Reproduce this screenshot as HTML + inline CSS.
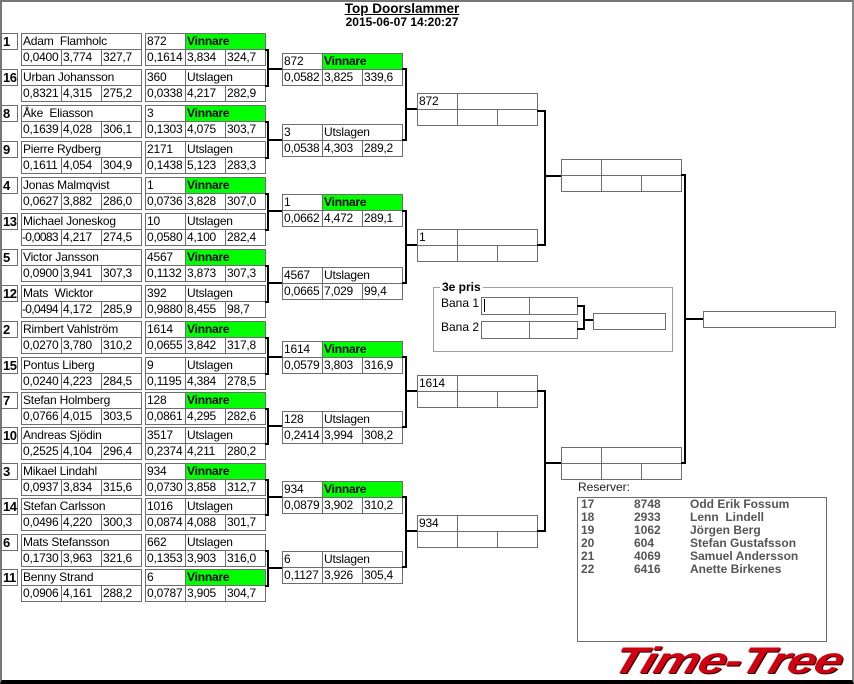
<!DOCTYPE html>
<html><head><meta charset="utf-8">
<style>
*{margin:0;padding:0;box-sizing:border-box}
body{width:854px;height:684px;position:relative;background:#fff;font-family:"Liberation Sans",sans-serif;font-size:12px;color:#000;overflow:hidden}
.c{position:absolute;border:1px solid #6d6d6d;background:#fff;height:17px;line-height:15px;padding-left:1px;white-space:nowrap;overflow:hidden;letter-spacing:-0.2px}
.n{letter-spacing:-0.7px;padding-left:0}
.s{position:absolute;border:1px solid #6d6d6d;left:1px;width:17px;height:17px;line-height:15px;font-weight:bold;font-size:13px;padding-left:1px;letter-spacing:-0.5px}
.g{background:#00ff00;font-weight:bold}
.l{position:absolute;background:#000}
.w41{width:41px}.w81{width:81px}.w121{width:121px}
.rs span{white-space:nowrap}
</style></head><body>
<div style="position:absolute;left:0;top:0;width:854px;height:684px;border:2px solid #777;border-bottom:4px solid #000;border-right-color:#888"></div>
<div style="position:absolute;left:300px;width:204px;top:2px;text-align:center;font-weight:bold;font-size:13.5px;text-decoration:underline;line-height:14px">Top Doorslammer</div>
<div style="position:absolute;left:300px;width:204px;top:15px;text-align:center;font-weight:bold;font-size:12px;line-height:14px">2015-06-07 14:20:27</div>

<div class="s" style="top:33px">1</div><div class="c w121" style="left:21px;top:33px">Adam&nbsp; Flamholc</div><div class="c w41" style="left:21px;top:49px">0,0400</div><div class="c w41" style="left:61px;top:49px">3,774</div><div class="c w41" style="left:101px;top:49px">327,7</div>
<div class="c w41" style="left:145px;top:33px">872</div><div class="c w81 g" style="left:185px;top:33px">Vinnare</div><div class="c w41" style="left:145px;top:49px">0,1614</div><div class="c w41" style="left:185px;top:49px">3,834</div><div class="c w41" style="left:225px;top:49px">324,7</div>

<div class="s" style="top:69px">16</div><div class="c w121" style="left:21px;top:69px">Urban Johansson</div><div class="c w41" style="left:21px;top:85px">0,8321</div><div class="c w41" style="left:61px;top:85px">4,315</div><div class="c w41" style="left:101px;top:85px">275,2</div>
<div class="c w41" style="left:145px;top:69px">360</div><div class="c w81" style="left:185px;top:69px">Utslagen</div><div class="c w41" style="left:145px;top:85px">0,0338</div><div class="c w41" style="left:185px;top:85px">4,217</div><div class="c w41" style="left:225px;top:85px">282,9</div>

<div class="s" style="top:105px">8</div><div class="c w121" style="left:21px;top:105px">Åke&nbsp; Eliasson</div><div class="c w41" style="left:21px;top:121px">0,1639</div><div class="c w41" style="left:61px;top:121px">4,028</div><div class="c w41" style="left:101px;top:121px">306,1</div>
<div class="c w41" style="left:145px;top:105px">3</div><div class="c w81 g" style="left:185px;top:105px">Vinnare</div><div class="c w41" style="left:145px;top:121px">0,1303</div><div class="c w41" style="left:185px;top:121px">4,075</div><div class="c w41" style="left:225px;top:121px">303,7</div>

<div class="s" style="top:141px">9</div><div class="c w121" style="left:21px;top:141px">Pierre Rydberg</div><div class="c w41" style="left:21px;top:157px">0,1611</div><div class="c w41" style="left:61px;top:157px">4,054</div><div class="c w41" style="left:101px;top:157px">304,9</div>
<div class="c w41" style="left:145px;top:141px">2171</div><div class="c w81" style="left:185px;top:141px">Utslagen</div><div class="c w41" style="left:145px;top:157px">0,1438</div><div class="c w41" style="left:185px;top:157px">5,123</div><div class="c w41" style="left:225px;top:157px">283,3</div>

<div class="s" style="top:177px">4</div><div class="c w121" style="left:21px;top:177px">Jonas Malmqvist</div><div class="c w41" style="left:21px;top:193px">0,0627</div><div class="c w41" style="left:61px;top:193px">3,882</div><div class="c w41" style="left:101px;top:193px">286,0</div>
<div class="c w41" style="left:145px;top:177px">1</div><div class="c w81 g" style="left:185px;top:177px">Vinnare</div><div class="c w41" style="left:145px;top:193px">0,0736</div><div class="c w41" style="left:185px;top:193px">3,828</div><div class="c w41" style="left:225px;top:193px">307,0</div>

<div class="s" style="top:213px">13</div><div class="c w121" style="left:21px;top:213px">Michael Joneskog</div><div class="c w41 n" style="left:21px;top:229px">-0,0083</div><div class="c w41" style="left:61px;top:229px">4,217</div><div class="c w41" style="left:101px;top:229px">274,5</div>
<div class="c w41" style="left:145px;top:213px">10</div><div class="c w81" style="left:185px;top:213px">Utslagen</div><div class="c w41" style="left:145px;top:229px">0,0580</div><div class="c w41" style="left:185px;top:229px">4,100</div><div class="c w41" style="left:225px;top:229px">282,4</div>

<div class="s" style="top:249px">5</div><div class="c w121" style="left:21px;top:249px">Victor Jansson</div><div class="c w41" style="left:21px;top:265px">0,0900</div><div class="c w41" style="left:61px;top:265px">3,941</div><div class="c w41" style="left:101px;top:265px">307,3</div>
<div class="c w41" style="left:145px;top:249px">4567</div><div class="c w81 g" style="left:185px;top:249px">Vinnare</div><div class="c w41" style="left:145px;top:265px">0,1132</div><div class="c w41" style="left:185px;top:265px">3,873</div><div class="c w41" style="left:225px;top:265px">307,3</div>

<div class="s" style="top:285px">12</div><div class="c w121" style="left:21px;top:285px">Mats&nbsp; Wicktor</div><div class="c w41 n" style="left:21px;top:301px">-0,0494</div><div class="c w41" style="left:61px;top:301px">4,172</div><div class="c w41" style="left:101px;top:301px">285,9</div>
<div class="c w41" style="left:145px;top:285px">392</div><div class="c w81" style="left:185px;top:285px">Utslagen</div><div class="c w41" style="left:145px;top:301px">0,9880</div><div class="c w41" style="left:185px;top:301px">8,455</div><div class="c w41" style="left:225px;top:301px">98,7</div>

<div class="s" style="top:321px">2</div><div class="c w121" style="left:21px;top:321px">Rimbert Vahlström</div><div class="c w41" style="left:21px;top:337px">0,0270</div><div class="c w41" style="left:61px;top:337px">3,780</div><div class="c w41" style="left:101px;top:337px">310,2</div>
<div class="c w41" style="left:145px;top:321px">1614</div><div class="c w81 g" style="left:185px;top:321px">Vinnare</div><div class="c w41" style="left:145px;top:337px">0,0655</div><div class="c w41" style="left:185px;top:337px">3,842</div><div class="c w41" style="left:225px;top:337px">317,8</div>

<div class="s" style="top:357px">15</div><div class="c w121" style="left:21px;top:357px">Pontus Liberg</div><div class="c w41" style="left:21px;top:373px">0,0240</div><div class="c w41" style="left:61px;top:373px">4,223</div><div class="c w41" style="left:101px;top:373px">284,5</div>
<div class="c w41" style="left:145px;top:357px">9</div><div class="c w81" style="left:185px;top:357px">Utslagen</div><div class="c w41" style="left:145px;top:373px">0,1195</div><div class="c w41" style="left:185px;top:373px">4,384</div><div class="c w41" style="left:225px;top:373px">278,5</div>

<div class="s" style="top:392px">7</div><div class="c w121" style="left:21px;top:392px">Stefan Holmberg</div><div class="c w41" style="left:21px;top:408px">0,0766</div><div class="c w41" style="left:61px;top:408px">4,015</div><div class="c w41" style="left:101px;top:408px">303,5</div>
<div class="c w41" style="left:145px;top:392px">128</div><div class="c w81 g" style="left:185px;top:392px">Vinnare</div><div class="c w41" style="left:145px;top:408px">0,0861</div><div class="c w41" style="left:185px;top:408px">4,295</div><div class="c w41" style="left:225px;top:408px">282,6</div>

<div class="s" style="top:427px">10</div><div class="c w121" style="left:21px;top:427px">Andreas Sjödin</div><div class="c w41" style="left:21px;top:443px">0,2525</div><div class="c w41" style="left:61px;top:443px">4,104</div><div class="c w41" style="left:101px;top:443px">296,4</div>
<div class="c w41" style="left:145px;top:427px">3517</div><div class="c w81" style="left:185px;top:427px">Utslagen</div><div class="c w41" style="left:145px;top:443px">0,2374</div><div class="c w41" style="left:185px;top:443px">4,211</div><div class="c w41" style="left:225px;top:443px">280,2</div>

<div class="s" style="top:463px">3</div><div class="c w121" style="left:21px;top:463px">Mikael Lindahl</div><div class="c w41" style="left:21px;top:479px">0,0937</div><div class="c w41" style="left:61px;top:479px">3,834</div><div class="c w41" style="left:101px;top:479px">315,6</div>
<div class="c w41" style="left:145px;top:463px">934</div><div class="c w81 g" style="left:185px;top:463px">Vinnare</div><div class="c w41" style="left:145px;top:479px">0,0730</div><div class="c w41" style="left:185px;top:479px">3,858</div><div class="c w41" style="left:225px;top:479px">312,7</div>

<div class="s" style="top:498px">14</div><div class="c w121" style="left:21px;top:498px">Stefan Carlsson</div><div class="c w41" style="left:21px;top:514px">0,0496</div><div class="c w41" style="left:61px;top:514px">4,220</div><div class="c w41" style="left:101px;top:514px">300,3</div>
<div class="c w41" style="left:145px;top:498px">1016</div><div class="c w81" style="left:185px;top:498px">Utslagen</div><div class="c w41" style="left:145px;top:514px">0,0874</div><div class="c w41" style="left:185px;top:514px">4,088</div><div class="c w41" style="left:225px;top:514px">301,7</div>

<div class="s" style="top:534px">6</div><div class="c w121" style="left:21px;top:534px">Mats Stefansson</div><div class="c w41" style="left:21px;top:550px">0,1730</div><div class="c w41" style="left:61px;top:550px">3,963</div><div class="c w41" style="left:101px;top:550px">321,6</div>
<div class="c w41" style="left:145px;top:534px">662</div><div class="c w81" style="left:185px;top:534px">Utslagen</div><div class="c w41" style="left:145px;top:550px">0,1353</div><div class="c w41" style="left:185px;top:550px">3,903</div><div class="c w41" style="left:225px;top:550px">316,0</div>

<div class="s" style="top:569px">11</div><div class="c w121" style="left:21px;top:569px">Benny Strand</div><div class="c w41" style="left:21px;top:585px">0,0906</div><div class="c w41" style="left:61px;top:585px">4,161</div><div class="c w41" style="left:101px;top:585px">288,2</div>
<div class="c w41" style="left:145px;top:569px">6</div><div class="c w81 g" style="left:185px;top:569px">Vinnare</div><div class="c w41" style="left:145px;top:585px">0,0787</div><div class="c w41" style="left:185px;top:585px">3,905</div><div class="c w41" style="left:225px;top:585px">304,7</div>

<div class="l" style="left:265px;top:49px;width:4px;height:2px"></div><div class="l" style="left:267px;top:49px;width:2px;height:38px"></div><div class="l" style="left:265px;top:85px;width:4px;height:2px"></div><div class="l" style="left:267px;top:68px;width:15px;height:2px"></div>
<div class="l" style="left:265px;top:121px;width:4px;height:2px"></div><div class="l" style="left:267px;top:121px;width:2px;height:38px"></div><div class="l" style="left:265px;top:157px;width:4px;height:2px"></div><div class="l" style="left:267px;top:139px;width:15px;height:2px"></div>
<div class="l" style="left:265px;top:193px;width:4px;height:2px"></div><div class="l" style="left:267px;top:193px;width:2px;height:38px"></div><div class="l" style="left:265px;top:229px;width:4px;height:2px"></div><div class="l" style="left:267px;top:210px;width:15px;height:2px"></div>
<div class="l" style="left:265px;top:265px;width:4px;height:2px"></div><div class="l" style="left:267px;top:265px;width:2px;height:38px"></div><div class="l" style="left:265px;top:301px;width:4px;height:2px"></div><div class="l" style="left:267px;top:282px;width:15px;height:2px"></div>
<div class="l" style="left:265px;top:337px;width:4px;height:2px"></div><div class="l" style="left:267px;top:337px;width:2px;height:38px"></div><div class="l" style="left:265px;top:373px;width:4px;height:2px"></div><div class="l" style="left:267px;top:356px;width:15px;height:2px"></div>
<div class="l" style="left:265px;top:408px;width:4px;height:2px"></div><div class="l" style="left:267px;top:408px;width:2px;height:37px"></div><div class="l" style="left:265px;top:443px;width:4px;height:2px"></div><div class="l" style="left:267px;top:425px;width:15px;height:2px"></div>
<div class="l" style="left:265px;top:479px;width:4px;height:2px"></div><div class="l" style="left:267px;top:479px;width:2px;height:37px"></div><div class="l" style="left:265px;top:514px;width:4px;height:2px"></div><div class="l" style="left:267px;top:496px;width:15px;height:2px"></div>
<div class="l" style="left:265px;top:550px;width:4px;height:2px"></div><div class="l" style="left:267px;top:550px;width:2px;height:37px"></div><div class="l" style="left:265px;top:585px;width:4px;height:2px"></div><div class="l" style="left:267px;top:567px;width:15px;height:2px"></div>

<div class="c w41" style="left:282px;top:53px">872</div><div class="c w81 g" style="left:322px;top:53px">Vinnare</div><div class="c w41" style="left:282px;top:69px">0,0582</div><div class="c w41" style="left:322px;top:69px">3,825</div><div class="c w41" style="left:362px;top:69px">339,6</div>
<div class="c w41" style="left:282px;top:124px">3</div><div class="c w81" style="left:322px;top:124px">Utslagen</div><div class="c w41" style="left:282px;top:140px">0,0538</div><div class="c w41" style="left:322px;top:140px">4,303</div><div class="c w41" style="left:362px;top:140px">289,2</div>
<div class="c w41" style="left:282px;top:194px">1</div><div class="c w81 g" style="left:322px;top:194px">Vinnare</div><div class="c w41" style="left:282px;top:210px">0,0662</div><div class="c w41" style="left:322px;top:210px">4,472</div><div class="c w41" style="left:362px;top:210px">289,1</div>
<div class="c w41" style="left:282px;top:267px">4567</div><div class="c w81" style="left:322px;top:267px">Utslagen</div><div class="c w41" style="left:282px;top:283px">0,0665</div><div class="c w41" style="left:322px;top:283px">7,029</div><div class="c w41" style="left:362px;top:283px">99,4</div>
<div class="c w41" style="left:282px;top:341px">1614</div><div class="c w81 g" style="left:322px;top:341px">Vinnare</div><div class="c w41" style="left:282px;top:357px">0,0579</div><div class="c w41" style="left:322px;top:357px">3,803</div><div class="c w41" style="left:362px;top:357px">316,9</div>
<div class="c w41" style="left:282px;top:411px">128</div><div class="c w81" style="left:322px;top:411px">Utslagen</div><div class="c w41" style="left:282px;top:427px">0,2414</div><div class="c w41" style="left:322px;top:427px">3,994</div><div class="c w41" style="left:362px;top:427px">308,2</div>
<div class="c w41" style="left:282px;top:481px">934</div><div class="c w81 g" style="left:322px;top:481px">Vinnare</div><div class="c w41" style="left:282px;top:497px">0,0879</div><div class="c w41" style="left:322px;top:497px">3,902</div><div class="c w41" style="left:362px;top:497px">310,2</div>
<div class="c w41" style="left:282px;top:551px">6</div><div class="c w81" style="left:322px;top:551px">Utslagen</div><div class="c w41" style="left:282px;top:567px">0,1127</div><div class="c w41" style="left:322px;top:567px">3,926</div><div class="c w41" style="left:362px;top:567px">305,4</div>

<div class="l" style="left:402px;top:68px;width:5px;height:2px"></div><div class="l" style="left:405px;top:68px;width:2px;height:73px"></div><div class="l" style="left:402px;top:139px;width:5px;height:2px"></div><div class="l" style="left:405px;top:108px;width:12px;height:2px"></div>
<div class="l" style="left:402px;top:210px;width:5px;height:2px"></div><div class="l" style="left:405px;top:210px;width:2px;height:74px"></div><div class="l" style="left:402px;top:282px;width:5px;height:2px"></div><div class="l" style="left:405px;top:244px;width:12px;height:2px"></div>
<div class="l" style="left:402px;top:356px;width:5px;height:2px"></div><div class="l" style="left:405px;top:356px;width:2px;height:72px"></div><div class="l" style="left:402px;top:426px;width:5px;height:2px"></div><div class="l" style="left:405px;top:390px;width:12px;height:2px"></div>
<div class="l" style="left:402px;top:496px;width:5px;height:2px"></div><div class="l" style="left:405px;top:496px;width:2px;height:72px"></div><div class="l" style="left:402px;top:566px;width:5px;height:2px"></div><div class="l" style="left:405px;top:530px;width:12px;height:2px"></div>

<div class="c w41" style="left:417px;top:93px">872</div><div class="c w81" style="left:457px;top:93px"></div><div class="c w41" style="left:417px;top:109px"></div><div class="c w41" style="left:457px;top:109px"></div><div class="c w41" style="left:497px;top:109px"></div>
<div class="c w41" style="left:417px;top:229px">1</div><div class="c w81" style="left:457px;top:229px"></div><div class="c w41" style="left:417px;top:245px"></div><div class="c w41" style="left:457px;top:245px"></div><div class="c w41" style="left:497px;top:245px"></div>
<div class="c w41" style="left:417px;top:375px">1614</div><div class="c w81" style="left:457px;top:375px"></div><div class="c w41" style="left:417px;top:391px"></div><div class="c w41" style="left:457px;top:391px"></div><div class="c w41" style="left:497px;top:391px"></div>
<div class="c w41" style="left:417px;top:515px">934</div><div class="c w81" style="left:457px;top:515px"></div><div class="c w41" style="left:417px;top:531px"></div><div class="c w41" style="left:457px;top:531px"></div><div class="c w41" style="left:497px;top:531px"></div>

<div class="l" style="left:537px;top:110px;width:9px;height:2px"></div><div class="l" style="left:544px;top:110px;width:2px;height:136px"></div><div class="l" style="left:537px;top:244px;width:9px;height:2px"></div><div class="l" style="left:544px;top:175px;width:17px;height:2px"></div>
<div class="l" style="left:537px;top:390px;width:9px;height:2px"></div><div class="l" style="left:544px;top:390px;width:2px;height:142px"></div><div class="l" style="left:537px;top:530px;width:9px;height:2px"></div><div class="l" style="left:544px;top:462px;width:17px;height:2px"></div>

<div class="c w41" style="left:561px;top:159px"></div><div class="c w81" style="left:601px;top:159px"></div><div class="c w41" style="left:561px;top:175px"></div><div class="c w41" style="left:601px;top:175px"></div><div class="c w41" style="left:641px;top:175px"></div>
<div class="c w41" style="left:561px;top:447px"></div><div class="c w81" style="left:601px;top:447px"></div><div class="c w41" style="left:561px;top:463px"></div><div class="c w41" style="left:601px;top:463px"></div><div class="c w41" style="left:641px;top:463px"></div>

<div class="l" style="left:681px;top:174px;width:5px;height:2px"></div><div class="l" style="left:684px;top:174px;width:2px;height:290px"></div><div class="l" style="left:681px;top:462px;width:5px;height:2px"></div><div class="l" style="left:684px;top:318px;width:19px;height:2px"></div>

<div class="c" style="left:703px;top:311px;width:133px"></div>

<div style="position:absolute;left:433px;top:287px;width:240px;height:65px;border:1px solid #a0a0a0"></div>
<div style="position:absolute;left:440px;top:280px;background:#fff;padding:0 2px;font-weight:bold;font-size:12px;line-height:14px">3e pris</div>
<div style="position:absolute;left:441px;top:296px;line-height:14px">Bana 1</div>
<div style="position:absolute;left:441px;top:320px;line-height:14px">Bana 2</div>
<div class="c" style="left:481px;top:297px;width:49px;height:18px"><span style="display:inline-block;width:1px;height:13px;background:#000;margin-top:1px;margin-left:1px"></span></div><div class="c" style="left:529px;top:297px;width:49px;height:18px"></div>
<div class="c" style="left:481px;top:321px;width:49px;height:18px"></div><div class="c" style="left:529px;top:321px;width:49px;height:18px"></div>
<div class="l" style="left:577px;top:305px;width:8px;height:2px"></div><div class="l" style="left:583px;top:305px;width:2px;height:25px"></div><div class="l" style="left:577px;top:328px;width:8px;height:2px"></div><div class="l" style="left:583px;top:319px;width:10px;height:2px"></div>
<div class="c" style="left:593px;top:313px;width:73px"></div>

<div style="position:absolute;left:578px;top:481px;line-height:13px;color:#222">Reserver:</div>
<div style="position:absolute;left:577px;top:497px;width:250px;height:145px;border:1px solid #6d6d6d"></div>
<div class="rs" style="position:absolute;left:581px;top:498px;width:240px;font-weight:bold;color:#555;line-height:13px;font-size:12px">
<div style="position:relative;height:13px"><span>17</span><span style="position:absolute;left:53px">8748</span><span style="position:absolute;left:109px">Odd Erik Fossum</span></div>
<div style="position:relative;height:13px"><span>18</span><span style="position:absolute;left:53px">2933</span><span style="position:absolute;left:109px">Lenn&nbsp; Lindell</span></div>
<div style="position:relative;height:13px"><span>19</span><span style="position:absolute;left:53px">1062</span><span style="position:absolute;left:109px">Jörgen Berg</span></div>
<div style="position:relative;height:13px"><span>20</span><span style="position:absolute;left:53px">604</span><span style="position:absolute;left:109px">Stefan Gustafsson</span></div>
<div style="position:relative;height:13px"><span>21</span><span style="position:absolute;left:53px">4069</span><span style="position:absolute;left:109px">Samuel Andersson</span></div>
<div style="position:relative;height:13px"><span>22</span><span style="position:absolute;left:53px">6416</span><span style="position:absolute;left:109px">Anette Birkenes</span></div>
</div>

<div style="position:absolute;left:614px;top:642px;height:38px;font-family:'Liberation Sans',sans-serif;font-weight:bold;font-style:italic;font-size:37px;line-height:38px;color:#d00010;text-shadow:1px 1px 0 #300;transform:skewX(-18deg) scaleX(1.37);transform-origin:left center;letter-spacing:-1px;white-space:nowrap">Time-Tree</div>
</body></html>
